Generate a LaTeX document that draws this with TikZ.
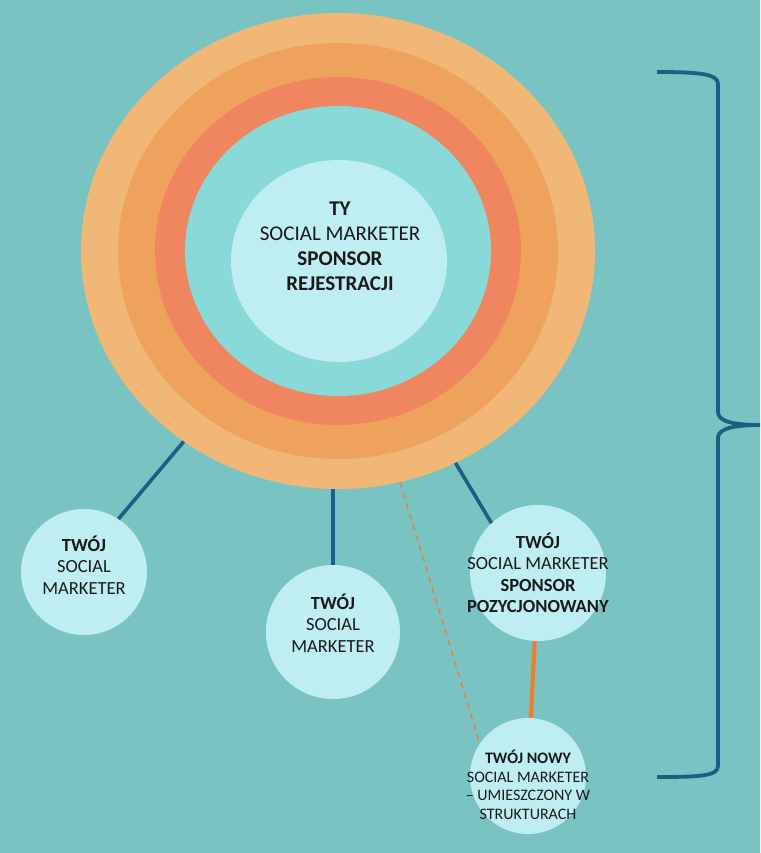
\documentclass[tikz,border=0pt]{standalone}
\usepackage{fontspec}
\setmainfont{Carlito}
\usetikzlibrary{shapes.geometric}

\definecolor{bgteal}{HTML}{7AC3C3}
\definecolor{ringA}{HTML}{F1B776}
\definecolor{ringB}{HTML}{EFA25C}
\definecolor{ringC}{HTML}{F08660}
\definecolor{ringD}{HTML}{88D9D8}
\definecolor{palecyan}{HTML}{BEEDF2}
\definecolor{linkblue}{HTML}{1B6084}
\definecolor{linkorange}{HTML}{ED7D31}
\definecolor{inkblack}{HTML}{1A1A1A}

\begin{document}
\begin{tikzpicture}[x=1pt,y=-1pt,
    ring/.style={ellipse, inner sep=0pt},
    member/.style={circle, fill=palecyan, inner sep=0pt, minimum size=#1},
    member/.default=130,
    txt/.style={align=center, text=inkblack, inner sep=0pt},
    bigtxt/.style={txt, font=\fontsize{21}{25}\selectfont},
    midtxt/.style={txt, font=\fontsize{18.5}{21.5}\selectfont},
    smalltxt/.style={txt, font=\fontsize{16}{18.5}\selectfont},
    link/.style={draw=linkblue, line width=3.6pt},
  ]

% Background
\fill[bgteal] (0,0) rectangle (760,853);
\useasboundingbox (0,0) rectangle (760,853);

% Rings, outer to inner
\foreach \rx/\ry/\col [count=\k] in {257/238/ringA, 220/208/ringB, 183/174/ringC, 153/145/ringD} {
    \node[ring, fill=\col, minimum width=2*\rx, minimum height=2*\ry] (ring\k) at (338,251) {};
}

% Centre: you
\node[ring, fill=palecyan, minimum width=216, minimum height=202] (ty) at (339,261) {};
\node[bigtxt] (tytext) at (340,246)
    {\textbf{TY}\\SOCIAL MARKETER\\\textbf{SPONSOR}\\\textbf{REJESTRACJI}};

% Your social marketers
\node[member=126] (left) at (84,572) {};
\node[member=134] (mid) at (333,632) {};
\node[member=136] (right) at (538,573) {};
\node[member=116] (new) at (528,776) {};

\node[midtxt] (lefttext) at ([yshift=7pt]left.center) {\textbf{TWÓJ}\\SOCIAL\\MARKETER};
\node[midtxt] (midtext) at ([yshift=9pt]mid.center) {\textbf{TWÓJ}\\SOCIAL\\MARKETER};
\node[midtxt] (righttext) at (right.center)
    {\textbf{TWÓJ}\\SOCIAL MARKETER\\\textbf{SPONSOR}\\\textbf{POZYCJONOWANY}};
\node[smalltxt] (newtext) at ([yshift=-9pt]new.center)
    {\textbf{TWÓJ NOWY}\\SOCIAL MARKETER\\– UMIESZCZONY W\\STRUKTURACH};

% Connectors
\draw[link] (ring1.-129) -- (left.57);
\draw[link] (mid.north) -- (mid.north |- ring1.south);
\draw[link] (ring1.-61) -- (right.133);
\draw[linkorange, line width=4.2pt] (right) -- (new);
\draw[linkorange, line width=1.3pt, dash pattern=on 6pt off 5pt] (ring1.-75) -- (new.146);

% Brace
\draw[linkblue, line width=3.8pt]
    (657,72) .. controls (700,72) and (718,74) .. (718,84) -- (718,412)
    .. controls (718,421) and (732,425) .. (760,425)
    .. controls (732,425) and (718,429) .. (718,438) -- (718,766)
    .. controls (718,776) and (700,777) .. (657,777);

\end{tikzpicture}
\end{document}
